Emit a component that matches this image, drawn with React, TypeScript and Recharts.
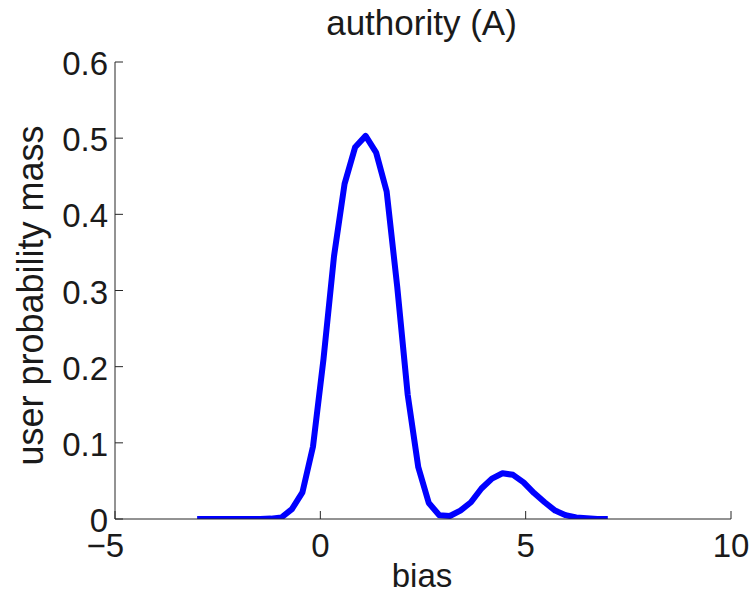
import React from "react";
import { LineChart, Line, XAxis, YAxis } from "recharts";

// Sample positions along the bias axis (40 evenly spaced points from -3 to 7)
const biasPoints = [
  -3, -2.744, -2.487, -2.231, -1.974, -1.718, -1.462, -1.205, -0.949, -0.692,
  -0.436, -0.179, 0.077, 0.333, 0.59, 0.846, 1.103, 1.359, 1.615, 1.872,
  2.128, 2.385, 2.641, 2.897, 3.154, 3.41, 3.667, 3.923, 4.179, 4.436,
  4.692, 4.949, 5.205, 5.462, 5.718, 5.974, 6.231, 6.487, 6.744, 7,
];

// User probability mass at each bias position
const massValues = [
  0, 0, 0, 0, 0, 0, 0, 0.0005, 0.002, 0.013,
  0.035, 0.095, 0.21, 0.345, 0.44, 0.488, 0.503, 0.481, 0.43, 0.305,
  0.163, 0.068, 0.021, 0.005, 0.004, 0.011, 0.022, 0.04, 0.053, 0.06,
  0.058, 0.048, 0.034, 0.022, 0.011, 0.005, 0.002, 0.001, 0, 0,
];

const xTicks = [-5, 0, 5, 10];
const yTicks = [0, 0.1, 0.2, 0.3, 0.4, 0.5, 0.6];

const titleText = "authority (A)";
const xLabelText = "bias";
const yLabelText = "user probability mass";

const data = biasPoints.map((b, i) => ({ bias: b, mass: massValues[i] }));

const FONT = "'Liberation Sans', Arial, Helvetica, sans-serif";
const INK = "#1a1a1a";
const AXIS = "#262626";
const TICK_LEN = 8;

const XTick = (props: any) => {
  const { x, y, payload } = props;
  const v: number = payload.value;
  const neg = v < 0;
  const label = neg ? "\u2212" + Math.abs(v) : String(v);
  return (
    <g>
      <line x1={x} x2={x} y1={y} y2={y - TICK_LEN} stroke={AXIS} strokeWidth={1} />
      <text
        x={neg ? x + 9 : x}
        y={y + 38}
        textAnchor={neg ? "end" : "middle"}
        fontFamily={FONT}
        fontSize={33}
        fill={INK}
      >
        {label}
      </text>
    </g>
  );
};

const YTick = (props: any) => {
  const { x, y, payload } = props;
  const v: number = payload.value;
  const label = v === 0 ? "0" : v.toFixed(1);
  return (
    <g>
      <line x1={x} x2={x + TICK_LEN} y1={y} y2={y} stroke={AXIS} strokeWidth={1} />
      <text
        x={x - 7}
        y={y + 13}
        textAnchor="end"
        fontFamily={FONT}
        fontSize={33}
        fill={INK}
      >
        {label}
      </text>
    </g>
  );
};

const XAxisTitle = (props: any) => {
  const { viewBox } = props;
  const cx = viewBox.x + viewBox.width / 2;
  return (
    <text x={cx - 1} y={viewBox.y + 68} textAnchor="middle" fontFamily={FONT} fontSize={33} fill={INK}>
      {xLabelText}
    </text>
  );
};

const YAxisTitle = (props: any) => {
  const { viewBox } = props;
  const cx = viewBox.x + 43;
  const cy = viewBox.y + viewBox.height / 2 + 5;
  return (
    <text
      x={cx}
      y={cy}
      transform={`rotate(-90, ${cx}, ${cy})`}
      textAnchor="middle"
      fontFamily={FONT}
      fontSize={36}
      fill={INK}
    >
      {yLabelText}
    </text>
  );
};

export default function App() {
  return (
    <div style={{ position: "absolute", left: 0, top: 0, width: 755, height: 594, background: "#fff" }}>
      <svg width={755} height={60} style={{ position: "absolute", left: 0, top: 0 }}>
        <text x={421.5} y={35} textAnchor="middle" fontFamily={FONT} fontSize={35} fill={INK}>
          {titleText}
        </text>
      </svg>
      <LineChart
        width={755}
        height={594}
        data={data}
        margin={{ top: 62, right: 24, bottom: 0, left: 0 }}
      >
        <XAxis
          dataKey="bias"
          type="number"
          domain={[-5, 10]}
          ticks={xTicks}
          interval={0}
          allowDataOverflow
          height={75}
          tickSize={0}
          tickMargin={0}
          tickLine={false}
          axisLine={{ stroke: AXIS, strokeWidth: 1 }}
          tick={<XTick />}
          label={<XAxisTitle />}
        />
        <YAxis
          type="number"
          domain={[0, 0.6]}
          ticks={yTicks}
          interval={0}
          allowDataOverflow
          width={115}
          tickSize={0}
          tickMargin={0}
          tickLine={false}
          axisLine={{ stroke: AXIS, strokeWidth: 1 }}
          tick={<YTick />}
          label={<YAxisTitle />}
        />
        <Line
          type="linear"
          dataKey="mass"
          stroke="#0000ff"
          strokeWidth={6}
          strokeLinejoin="round"
          dot={false}
          activeDot={false}
          isAnimationActive={false}
        />
      </LineChart>
    </div>
  );
}
